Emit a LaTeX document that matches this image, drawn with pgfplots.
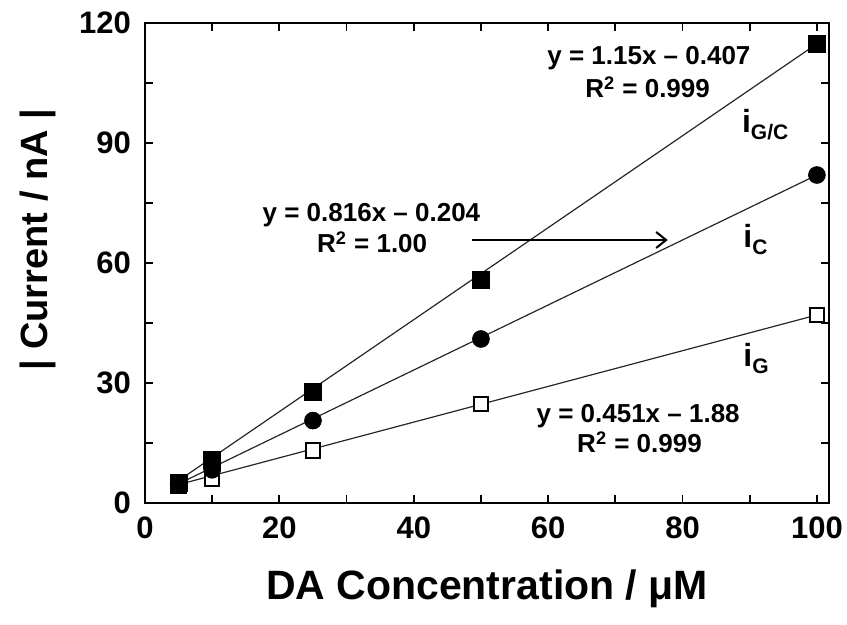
\documentclass[border=0pt]{standalone}
\usepackage{fontspec}
\setmainfont{Liberation Sans}
\usepackage{pgfplots}
\pgfplotsset{compat=1.18}
\usetikzlibrary{arrows.meta}

\newcommand{\eqfont}{\fontsize{13}{15}\selectfont\bfseries}
\newcommand{\ilabel}[1]{{\fontsize{16}{18}\selectfont\bfseries i\raisebox{-3.5pt}{\fontsize{10.5}{12}\selectfont #1}}}

\begin{document}
\begin{tikzpicture}
\useasboundingbox (-72.5pt,-61pt) rectangle (351pt,251.5pt);
\begin{axis}[
    scale only axis,
    width=342pt, height=240pt,
    xmin=0, xmax=101.8, ymin=0, ymax=120,
    xtick={0,10,...,100}, xticklabels={0,,20,,40,,60,,80,,100},
    ytick={0,15,...,120}, yticklabels={0,,30,,60,,90,,120},
    tick align=inside, major tick length=4pt,
    axis line style={line width=1pt},
    every tick/.style={line width=0.9pt, black},
    tick label style={font=\fontsize{15.5}{18}\selectfont\bfseries},
    xticklabel style={yshift=-3.5pt},
    yticklabel style={xshift=-3.5pt},
    xlabel={DA Concentration / μM},
    xlabel style={font=\fontsize{20.5}{24}\selectfont\bfseries,
        at={(axis description cs:0.5,0)}, anchor=base, yshift=-48.5pt},
    ylabel={| Current / nA |},
    ylabel style={font=\fontsize{19}{24}\selectfont\bfseries,
        at={(axis description cs:0,0.548)}, anchor=base, yshift=48.5pt},
]
% fit lines
\addplot[black!85, line width=0.6pt] coordinates {(5,4.6) (100,47)};
\addplot[black!85, line width=0.6pt] coordinates {(5,4.8) (100,82)};
\addplot[black!85, line width=0.6pt] coordinates {(5,5.6) (100,114.8)};
% i_G : open squares
\addplot[only marks, mark=square*, mark size=3.6pt,
    mark options={fill=white, draw=black, line width=1pt}]
    coordinates {(5,4.3) (10,6) (25,13.1) (50,24.75) (100,47)};
% i_C : filled circles
\addplot[only marks, mark=*, mark size=4.2pt, mark options={fill=black, draw=black}]
    coordinates {(5,4.8) (10,8.3) (25,20.6) (50,41) (100,82)};
% i_G/C : filled squares
\addplot[only marks, mark=square*, mark size=4.2pt, mark options={fill=black, draw=black}]
    coordinates {(5,5.1) (10,10.75) (25,27.8) (50,55.75) (100,114.75)};

\node[anchor=base, font=\eqfont] at (axis cs:75,109.5) {y = 1.15x – 0.407};
\node[anchor=base, font=\eqfont] at (axis cs:74.8,101.25) {R\textsuperscript{2} = 0.999};
\node[anchor=base, font=\eqfont] at (axis cs:33.7,70.25) {y = 0.816x – 0.204};
\node[anchor=base, font=\eqfont] at (axis cs:33.8,62.5) {R\textsuperscript{2} = 1.00};
\node[anchor=base, font=\eqfont] at (axis cs:73.4,20) {y = 0.451x – 1.88};
\node[anchor=base, font=\eqfont] at (axis cs:73.6,12.5) {R\textsuperscript{2} = 0.999};
\draw[line width=1pt, -{Straight Barb[length=5pt,width=8pt]}]
    (axis cs:48.7,65.75) -- (axis cs:77.8,65.75);

\node[anchor=base west, inner sep=0pt] at (axis cs:88.8,92.5) {\ilabel{G/C}};
\node[anchor=base west, inner sep=0pt] at (axis cs:89,63.75) {\ilabel{C}};
\node[anchor=base west, inner sep=0pt] at (axis cs:89,34) {\ilabel{G}};
\end{axis}
\end{tikzpicture}
\end{document}
